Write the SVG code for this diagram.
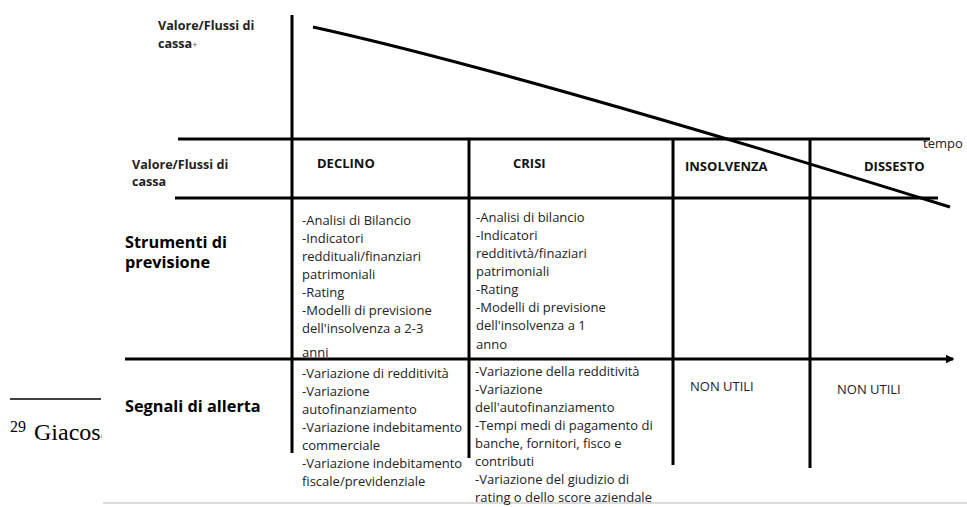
<svg xmlns="http://www.w3.org/2000/svg" width="967" height="507" viewBox="0 0 967 507">
<defs>
<style>
.ln{stroke:#000;stroke-width:3;fill:none;stroke-linecap:butt}
.hd{font-family:"Open Sans","DejaVu Sans",sans-serif;font-weight:700;font-size:13px;fill:#111}
.ax{font-family:"Open Sans","DejaVu Sans",sans-serif;font-weight:700;font-size:12.6px;fill:#222}
.rw{font-family:"Open Sans","DejaVu Sans",sans-serif;font-weight:700;font-size:16.3px;fill:#000}
.tx{font-family:"Open Sans","DejaVu Sans",sans-serif;font-size:13px;fill:#222}
.fn{font-family:"Liberation Serif","Times New Roman",serif;fill:#000}
</style>
<marker id="ah" viewBox="0 0 6 6" refX="5" refY="3" markerWidth="3" markerHeight="3" orient="auto" markerUnits="strokeWidth">
<path d="M0,0 L6,3 L0,6 z" fill="#000"/>
</marker>
<clipPath id="fnclip"><rect x="0" y="380" width="102" height="80"/></clipPath>
</defs>
<rect width="967" height="507" fill="#fff"/>

<g id="footnote">
<line x1="10" y1="399" x2="101" y2="399" stroke="#000" stroke-width="1.5"/>
<text class="fn" clip-path="url(#fnclip)" x="10" y="440"><tspan font-size="16" dy="-8">29</tspan><tspan font-size="24" dy="8" x="34">Giacosa</tspan></text>
</g>

<g id="connectors">
<line class="ln" x1="292" y1="15" x2="292" y2="453"/>
<line class="ln" x1="178" y1="139" x2="930" y2="139"/>
<line class="ln" x1="175" y1="198" x2="938" y2="198"/>
<line class="ln" x1="125" y1="359" x2="953" y2="359" marker-end="url(#ah)"/>
<line class="ln" x1="469" y1="139" x2="469" y2="458"/>
<line class="ln" x1="673" y1="139" x2="673" y2="465"/>
<line class="ln" x1="810" y1="139" x2="810" y2="468"/>
<path class="ln" d="M313,27 Q513,71 950,207"/>
<line x1="103" y1="503" x2="967" y2="503" stroke="#cfcfcf" stroke-width="1.5"/>
</g>

<g id="axis-label">
<text class="ax" x="158" y="30">Valore/Flussi di</text>
<text class="ax" x="158" y="48">cassa<tspan font-size="9" font-weight="400" fill="#555">+</tspan></text>
<text class="tx" x="923" y="148" font-size="12" fill="#444">tempo</text>
</g>

<g id="header-row">
<text class="ax" x="132" y="169">Valore/Flussi di</text>
<text class="ax" x="132" y="186">cassa</text>
<text class="hd" x="317" y="168">DECLINO</text>
<text class="hd" x="513" y="168">CRISI</text>
<text class="hd" x="685" y="171">INSOLVENZA</text>
<text class="hd" x="864" y="171">DISSESTO</text>
</g>

<g id="strumenti-row">
<text class="rw" x="125" y="248">Strumenti di</text>
<text class="rw" x="125" y="268">previsione</text>
<text class="tx" x="302"><tspan x="302" y="225">-Analisi di Bilancio</tspan><tspan x="302" y="243">-Indicatori</tspan><tspan x="302" y="261">reddituali/finanziari</tspan><tspan x="302" y="279">patrimoniali</tspan><tspan x="302" y="297">-Rating</tspan><tspan x="302" y="315">-Modelli di previsione</tspan><tspan x="302" y="333">dell'insolvenza a 2-3</tspan><tspan x="302" y="357">anni</tspan></text>
<text class="tx" x="476"><tspan x="476" y="222">-Analisi di bilancio</tspan><tspan x="476" y="240">-Indicatori</tspan><tspan x="476" y="258">redditivtà/finaziari</tspan><tspan x="476" y="276">patrimoniali</tspan><tspan x="476" y="294">-Rating</tspan><tspan x="476" y="312">-Modelli di previsione</tspan><tspan x="476" y="330">dell'insolvenza a 1</tspan><tspan x="476" y="349">anno</tspan></text>
</g>

<g id="segnali-row">
<text class="rw" x="125" y="412">Segnali di allerta</text>
<text class="tx" x="302"><tspan x="302" y="378">-Variazione di redditività</tspan><tspan x="302" y="396">-Variazione</tspan><tspan x="302" y="414">autofinanziamento</tspan><tspan x="302" y="432">-Variazione indebitamento</tspan><tspan x="302" y="450">commerciale</tspan><tspan x="302" y="468">-Variazione indebitamento</tspan><tspan x="302" y="486">fiscale/previdenziale</tspan></text>
<text class="tx" x="475"><tspan x="475" y="376">-Variazione della redditività</tspan><tspan x="475" y="394">-Variazione</tspan><tspan x="475" y="412">dell'autofinanziamento</tspan><tspan x="475" y="430">-Tempi medi di pagamento di</tspan><tspan x="475" y="448">banche, fornitori, fisco e</tspan><tspan x="475" y="466">contributi</tspan><tspan x="475" y="484">-Variazione del giudizio di</tspan><tspan x="475" y="502">rating o dello score aziendale</tspan></text>
<text class="tx" x="690" y="391">NON UTILI</text>
<text class="tx" x="837" y="394">NON UTILI</text>
</g>
</svg>
